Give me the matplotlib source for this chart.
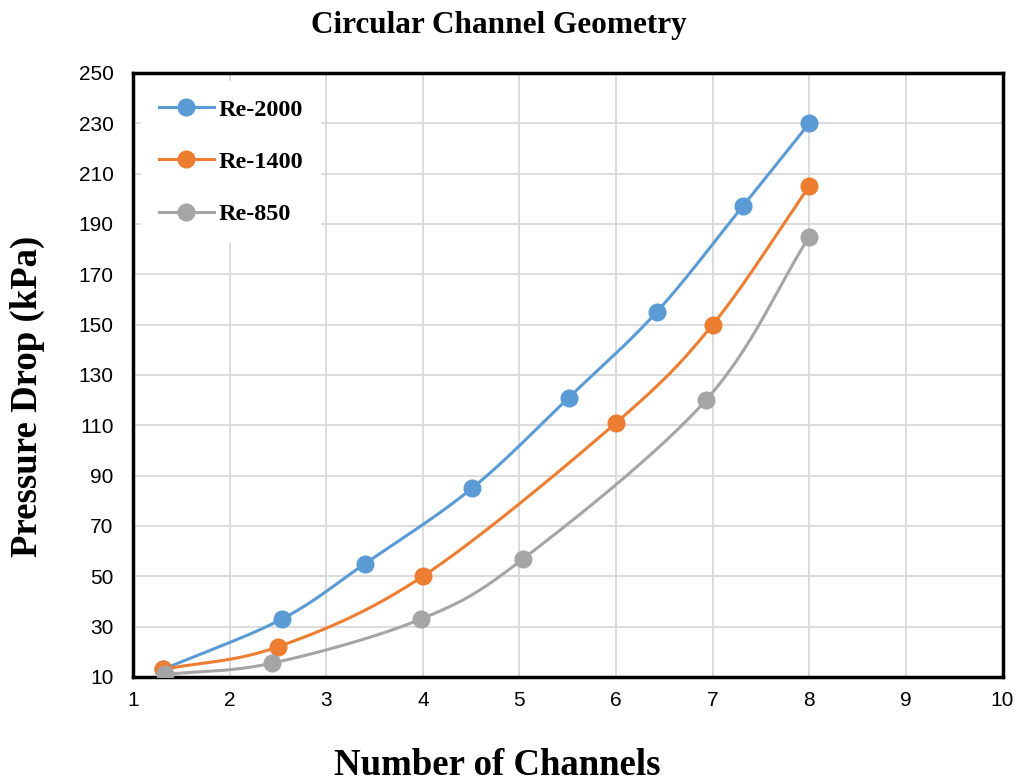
import numpy as np
import matplotlib.pyplot as plt

# channel counts and pressure drops (kPa) for each Reynolds number
re2000_x = [1.31, 2.54, 3.40, 4.51, 5.51, 6.42, 7.31, 8.0]
re2000_y = [13, 33, 55, 85, 121, 155, 197, 230]

re1400_x = [1.31, 2.50, 4.0, 6.0, 7.0, 8.0]
re1400_y = [13, 22, 50, 111, 150, 205]

re850_x = [1.33, 2.44, 3.98, 5.04, 6.93, 8.0]
re850_y = [11, 15.5, 33, 57, 120, 185]

series = [
    ("Re-2000", re2000_x, re2000_y, "#5B9BD5"),
    ("Re-1400", re1400_x, re1400_y, "#ED7D31"),
    ("Re-850", re850_x, re850_y, "#A5A5A5"),
]


def smooth(xs, ys, n=30):
    # Catmull-Rom spline through the points, like a spreadsheet "smoothed line"
    p = np.column_stack([xs, ys]).astype(float)
    p = np.vstack([2 * p[0] - p[1], p, 2 * p[-1] - p[-2]])
    out = []
    t = np.linspace(0, 1, n)[:, None]
    for i in range(1, len(p) - 2):
        p0, p1, p2, p3 = p[i - 1], p[i], p[i + 1], p[i + 2]
        seg = 0.5 * ((2 * p1) + (-p0 + p2) * t
                     + (2 * p0 - 5 * p1 + 4 * p2 - p3) * t ** 2
                     + (-p0 + 3 * p1 - 3 * p2 + p3) * t ** 3)
        out.append(seg)
    out = np.vstack(out)
    return out[:, 0], out[:, 1]


fig = plt.figure(figsize=(10.23, 7.83), dpi=100)
ax = fig.add_axes([0.130, 0.1354, 0.850, 0.7714])

for label, xs, ys, color in series:
    sx, sy = smooth(xs, ys)
    ax.plot(sx, sy, color=color, lw=2.2, zorder=3)
    ax.plot(xs, ys, 'o', color=color, ms=12, zorder=4)
    ax.plot([], [], '-o', color=color, lw=2.2, ms=12, label=label)

ax.set_xlim(1, 10)
ax.set_ylim(10, 250)
ax.set_xticks(range(1, 11))
ax.set_yticks(range(10, 251, 20))
ax.grid(True, color="#D9D9D9", lw=1.3)
ax.set_axisbelow(True)
for s in ax.spines.values():
    s.set_linewidth(2.5)
    s.set_color("black")
ax.tick_params(axis="x", length=0, pad=10, labelsize=15)
ax.tick_params(axis="y", length=0, pad=14, labelsize=15)
for lab in ax.get_xticklabels() + ax.get_yticklabels():
    lab.set_family("Liberation Sans")

serif = {"family": "Liberation Serif", "weight": "bold"}
fig.text(0.488, 0.968, "Circular Channel Geometry", ha="center", va="center",
         fontsize=22.5, **serif)
fig.text(0.486, 0.022, "Number of Channels", ha="center", va="center",
         fontsize=26.5, **serif)
fig.text(0.027, 0.494, "Pressure Drop (kPa)", ha="center", va="center",
         rotation=90, fontsize=26.5, **serif)

leg = ax.legend(loc="upper left", frameon=True, fancybox=False,
                prop={"family": "Liberation Serif", "weight": "bold", "size": 17.5},
                handlelength=2.3, handletextpad=0.15, labelspacing=1.25,
                borderpad=0.7, borderaxespad=0.35)
leg.get_frame().set_edgecolor("white")
leg.get_frame().set_facecolor("white")
leg.get_frame().set_alpha(1)

fig.savefig("out.png", dpi=100)
